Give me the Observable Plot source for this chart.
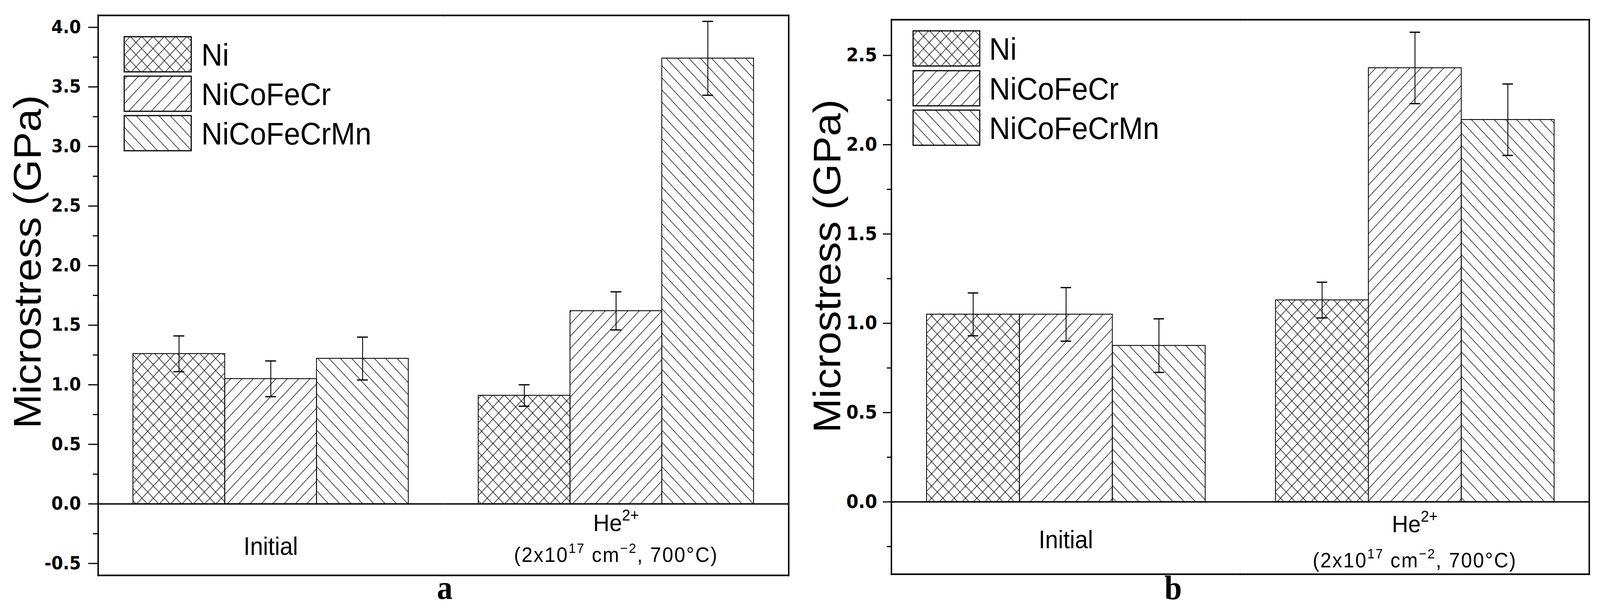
<!DOCTYPE html>
<html>
<head>
<meta charset="utf-8">
<script src="https://cdn.jsdelivr.net/npm/d3@7"></script>
<script src="https://cdn.jsdelivr.net/npm/@observablehq/plot@0.6"></script>
<style>
  html, body { margin: 0; padding: 0; background: #fff; overflow: hidden; }
  #page { position: relative; width: 4393px; height: 1557px; background: #fff; overflow: hidden; transform-origin: 0 0; }
  .panel { position: absolute; top: 0; }
  .panel svg { max-width: none !important; }
  #overlay { position: absolute; left: 0; top: 0; pointer-events: none; }
</style>
</head>
<body>
<div id="page">
  <div class="panel" id="panelA" style="left:0px"></div>
  <div class="panel" id="panelB" style="left:2200px"></div>
</div>
<script>
// ---------------- data ----------------
const groups = ["Initial", "He"];
const groupLabelMain = ["Initial", "He^{2+}"];
const groupLabelSub = ["", "(2x10^{17} cm^{\u22122}, 700\u00B0C)"];
const series = ["Ni", "NiCoFeCr", "NiCoFeCrMn"];

// panel a
const aInitialValues = [1.26, 1.05, 1.22];
const aInitialErrors = [0.15, 0.15, 0.18];
const aHeValues = [0.91, 1.62, 3.74];
const aHeErrors = [0.09, 0.16, 0.31];
const aYTicks = [-0.5, 0.0, 0.5, 1.0, 1.5, 2.0, 2.5, 3.0, 3.5, 4.0];
const aYMinorTicks = [-0.25, 0.25, 0.75, 1.25, 1.75, 2.25, 2.75, 3.25, 3.75];
const aYDomain = [-0.6, 4.1];

// panel b
const bInitialValues = [1.05, 1.05, 0.875];
const bInitialErrors = [0.12, 0.15, 0.15];
const bHeValues = [1.13, 2.43, 2.14];
const bHeErrors = [0.10, 0.20, 0.20];
const bYTicks = [0.0, 0.5, 1.0, 1.5, 2.0, 2.5];
const bYMinorTicks = [-0.25, 0.25, 0.75, 1.25, 1.75, 2.25];
const bYDomain = [-0.405, 2.70];

const yTitle = "Microstress (GPa)";
const panelLetters = ["a", "b"];

// ---------------- patterns & overlay ----------------
const NS = "http://www.w3.org/2000/svg";
const page = document.getElementById("page");
const patternIds = ["hatchCross", "hatchFwd", "hatchBack"];
const overlay = document.createElementNS(NS, "svg");
overlay.setAttribute("id", "overlay");
overlay.setAttribute("width", 4393);
overlay.setAttribute("height", 1557);
overlay.innerHTML = `
<defs>
  <pattern id="hatchCross" patternUnits="userSpaceOnUse" width="22" height="22" patternTransform="rotate(45)">
    <line x1="11" y1="-1" x2="11" y2="23" stroke="#000" stroke-width="1.5"/>
    <line x1="-1" y1="11" x2="23" y2="11" stroke="#000" stroke-width="1.5"/>
  </pattern>
  <pattern id="hatchFwd" patternUnits="userSpaceOnUse" width="22" height="22" patternTransform="rotate(45)">
    <line x1="11" y1="-1" x2="11" y2="23" stroke="#000" stroke-width="1.5"/>
  </pattern>
  <pattern id="hatchBack" patternUnits="userSpaceOnUse" width="22" height="22" patternTransform="rotate(-45)">
    <line x1="11" y1="-1" x2="11" y2="23" stroke="#000" stroke-width="1.5"/>
  </pattern>
</defs>`;
page.appendChild(overlay);

function buildData(initV, initE, heV, heE) {
  const vals = [initV, heV], errs = [initE, heE];
  return groups.flatMap((g, gi) => series.map((s, si) => ({
    group: g, series: s, value: vals[gi][si], err: errs[gi][si]
  })));
}
const labelRows = groups.map((g, i) => ({group: g, main: groupLabelMain[i], sub: groupLabelSub[i]}));

function superscriptify(svg) {
  svg.querySelectorAll("text").forEach(el => {
    if (el.children.length) return;
    const s = el.textContent;
    if (!s.includes("^{")) return;
    const fs = parseFloat(getComputedStyle(el).fontSize) || 60;
    const shift = fs * 0.42;
    const supSize = fs * 0.66;
    if (s.startsWith("(")) el.setAttribute("letter-spacing", 3);
    el.textContent = "";
    const re = /\^\{([^}]*)\}/g;
    let last = 0, m, raised = false;
    const add = (txt, sup) => {
      if (!txt) return;
      const t = document.createElementNS(NS, "tspan");
      t.textContent = txt;
      if (sup) {
        t.setAttribute("font-size", supSize);
        if (!raised) { t.setAttribute("dy", -shift); raised = true; }
      } else if (raised) {
        t.setAttribute("dy", shift); raised = false;
      }
      el.appendChild(t);
    };
    while ((m = re.exec(s))) {
      add(s.slice(last, m.index), false);
      add(m[1], true);
      last = m.index + m[0].length;
    }
    add(s.slice(last), false);
  });
}

function panel(cfg) {
  const data = buildData(...cfg.values);
  const withSub = labelRows.filter(d => d.sub !== "");
  const noSub = labelRows.filter(d => d.sub === "");
  const fam = "Liberation Sans, Arial, Helvetica, sans-serif";
  return Plot.plot({
    width: cfg.width,
    height: 1557,
    marginLeft: cfg.ml, marginRight: cfg.mr, marginTop: cfg.mt, marginBottom: cfg.mb,
    style: {background: "transparent", fontFamily: fam, color: "#000", overflow: "visible"},
    fx: {domain: groups, padding: 0, axis: null, label: null},
    x: {domain: series, paddingInner: 0, paddingOuter: 0.375, axis: null},
    y: {domain: cfg.yDomain, axis: null},
    color: {domain: series, range: patternIds.map(id => `url(#${id})`)},
    marks: [
      Plot.barY(data, {fx: "group", x: "series", y: "value", fill: "series", stroke: "#000", strokeWidth: 2.2}),
      Plot.ruleY([0], {stroke: "#000", strokeWidth: 3.4}),
      Plot.ruleX(data, {fx: "group", x: "series", y1: d => d.value - d.err, y2: d => d.value + d.err, stroke: "#000", strokeWidth: 2.4}),
      Plot.tickY(data, {fx: "group", x: "series", y: d => d.value + d.err, insetLeft: cfg.capInset, insetRight: cfg.capInset, stroke: "#000", strokeWidth: 3.2}),
      Plot.tickY(data, {fx: "group", x: "series", y: d => d.value - d.err, insetLeft: cfg.capInset, insetRight: cfg.capInset, stroke: "#000", strokeWidth: 3.2}),
      Plot.frame({anchor: "top", stroke: "#000", strokeWidth: 4, strokeLinecap: "square"}),
      Plot.frame({anchor: "bottom", stroke: "#000", strokeWidth: 4, strokeLinecap: "square"}),
      Plot.frame({anchor: "left", facetAnchor: "left", stroke: "#000", strokeWidth: 4, strokeLinecap: "square"}),
      Plot.frame({anchor: "right", facetAnchor: "right", stroke: "#000", strokeWidth: 4, strokeLinecap: "square"}),
      Plot.axisY(cfg.yTicks, {anchor: "left", tickSize: cfg.tickSize, tickPadding: cfg.tickPadding,
        tickFormat: d => d.toFixed(1), fontSize: cfg.tickFont, fontWeight: "bold",
        fontFamily: "DejaVu Sans, Liberation Sans, sans-serif", strokeWidth: 3, label: null}),
      Plot.axisY(cfg.yMinor, {anchor: "left", tickSize: cfg.minorSize, tickFormat: () => "", strokeWidth: 3, label: null}),
      Plot.text([yTitle], {frameAnchor: "left", facetAnchor: "left", rotate: -90, lineAnchor: "bottom",
        textAnchor: "middle", dx: cfg.titleDx, dy: cfg.titleDy, fontSize: 106, fill: "#000"}),
      Plot.text(noSub, {fx: "group", text: "main", frameAnchor: "bottom", lineAnchor: "bottom",
        dy: cfg.initDy, fontSize: 64, fill: "#000"}),
      Plot.text(withSub, {fx: "group", text: "main", frameAnchor: "bottom", lineAnchor: "bottom",
        dy: cfg.heDy, fontSize: 62, fill: "#000"}),
      Plot.text(withSub, {fx: "group", text: "sub", frameAnchor: "bottom", lineAnchor: "bottom",
        dy: cfg.subDy, fontSize: 54, fill: "#000"})
    ]
  });
}

const plotA = panel({
  values: [aInitialValues, aInitialErrors, aHeValues, aHeErrors],
  width: 2200, ml: 268, mr: 35, mt: 39, mb: 84,
  yDomain: aYDomain, yTicks: aYTicks, yMinor: aYMinorTicks,
  tickSize: 27, minorSize: 14, tickPadding: 20, tickFont: 46,
  titleDx: -158, titleDy: -86, capInset: 111,
  initDy: -53, heDy: -114, subDy: -35
});
document.getElementById("panelA").appendChild(plotA);
superscriptify(plotA);

const plotB = panel({
  values: [bInitialValues, bInitialErrors, bHeValues, bHeErrors],
  width: 2193, ml: 247, mr: 30, mt: 50, mb: 87,
  yDomain: bYDomain, yTicks: bYTicks, yMinor: bYMinorTicks,
  tickSize: 23, minorSize: 12, tickPadding: 16, tickFont: 48,
  titleDx: -140, titleDy: -79, capInset: 113,
  initDy: -67, heDy: -108, subDy: -18
});
document.getElementById("panelB").appendChild(plotB);
superscriptify(plotB);

// ---------------- legends & panel letters (overlay) ----------------
const legendSpecs = [
  {x0: 0, boxX: 341, boxW: 184, boxYs: [94, 195, 296], boxH: 90, textX: 553},
  {x0: 2200, boxX: 307, boxW: 183, boxYs: [79, 181, 282], boxH: 90, textX: 516}
];
legendSpecs.forEach(spec => {
  series.forEach((s, i) => {
    const r = document.createElementNS(NS, "rect");
    r.setAttribute("x", spec.x0 + spec.boxX);
    r.setAttribute("y", spec.boxYs[i]);
    r.setAttribute("width", spec.boxW);
    r.setAttribute("height", spec.boxH);
    r.setAttribute("fill", `url(#${patternIds[i]})`);
    r.setAttribute("stroke", "#000");
    r.setAttribute("stroke-width", 3);
    overlay.appendChild(r);
    const t = document.createElementNS(NS, "text");
    t.setAttribute("x", spec.x0 + spec.textX);
    t.setAttribute("y", spec.boxYs[i] + spec.boxH / 2 + 29);
    t.setAttribute("font-family", "Liberation Sans, Arial, sans-serif");
    t.setAttribute("font-size", 80);
    t.setAttribute("fill", "#000");
    t.textContent = s;
    overlay.appendChild(t);
  });
});
const letterX = [1221, 3221];
panelLetters.forEach((L, i) => {
  const t = document.createElementNS(NS, "text");
  t.setAttribute("x", letterX[i]);
  t.setAttribute("y", 1534);
  t.setAttribute("text-anchor", "middle");
  t.setAttribute("font-family", "Liberation Serif, Times New Roman, serif");
  t.setAttribute("font-weight", "bold");
  t.setAttribute("font-size", 86);
  t.setAttribute("fill", "#000");
  t.textContent = L;
  overlay.appendChild(t);
});

// fit the 4393x1557 design into the actual viewport (stretch each axis independently)
const sx = Math.min(1, window.innerWidth / 4393);
const sy = Math.min(1, window.innerHeight / 1557);
if (sx < 0.999 || sy < 0.999) page.style.transform = `scale(${sx}, ${sy})`;
</script>
</body>
</html>
